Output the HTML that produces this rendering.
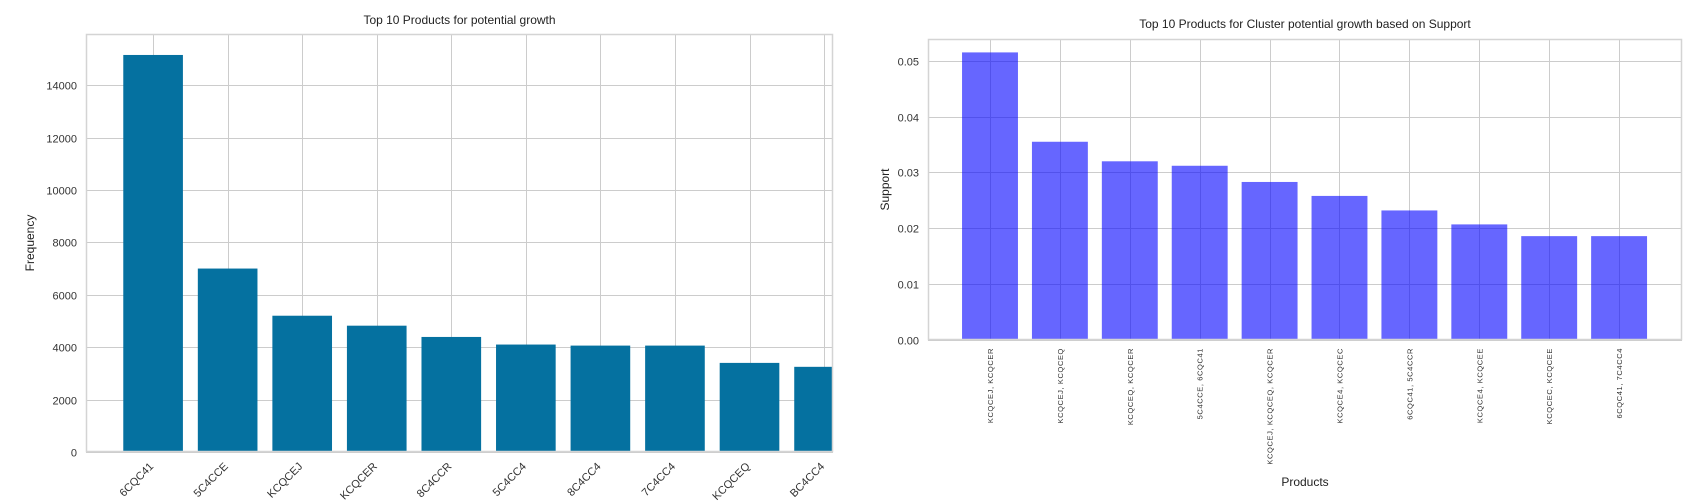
<!DOCTYPE html>
<html><head><meta charset="utf-8"><style>
html,body{margin:0;padding:0;background:#fff;}
svg{display:block;font-family:"Liberation Sans",Arial,sans-serif;}
</style></head><body>
<svg id="c" width="1706" height="504" viewBox="0 0 1706 504"></svg>
<script>
const leftCats=["6CQC41","5C4CCE","KCQCEJ","KCQCER","8C4CCR","5C4CC4","8C4CC4","7C4CC4","KCQCEQ","BC4CC4"];
const leftVals=[15150,7000,5200,4820,4390,4100,4060,4060,3400,3250];
const leftTicks=[0,2000,4000,6000,8000,10000,12000,14000];
const rightCats=["KCQCEJ, KCQCER","KCQCEJ, KCQCEQ","KCQCEQ, KCQCER","5C4CCE, 6CQC41","KCQCEJ, KCQCEQ, KCQCER","KCQCE4, KCQCEC","6CQC41, 5C4CCR","KCQCE4, KCQCEE","KCQCEC, KCQCEE","6CQC41, 7C4CC4"];
const rightVals=[0.0515,0.0355,0.0320,0.0312,0.0283,0.0258,0.0232,0.0207,0.0186,0.0186];
const rightTicks=[0,0.01,0.02,0.03,0.04,0.05];
const NS="http://www.w3.org/2000/svg";
const svg=document.getElementById('c');
function mk(t,a,p){const e=document.createElementNS(NS,t);for(const k in a)e.setAttribute(k,a[k]);(p||svg).appendChild(e);return e;}
function chart(o){
  const g=mk('g',{});
  
  
  const xs=i=>o.x0+(i-o.xmin)/(o.xmax-o.xmin)*(o.x1-o.x0);
  const ys=v=>o.y1-(v-o.ymin)/(o.ymax-o.ymin)*(o.y1-o.y0);
  const clip='cl'+o.name;
  const d=mk('defs',{},g);const cp=mk('clipPath',{id:clip},d);mk('rect',{x:o.x0,y:o.y0,width:o.x1-o.x0,height:o.y1-o.y0},cp);
  mk('rect',{x:o.x0,y:o.y0,width:o.x1-o.x0,height:o.y1-o.y0,fill:'#fff'},g);
  const grid=mk('g',{stroke:'#cccccc','stroke-width':1},g);
  o.ticks.forEach(t=>{const y=Math.round(ys(t))+0.5;const l=mk('line',{x1:o.x0,x2:o.x1,y1:y,y2:y},grid);
    
    const tx=mk('text',{x:o.x0-9,y:y+4,'text-anchor':'end','font-size':11,fill:'#333'},g);tx.textContent=o.fmt(t);
    });
  o.cats.forEach((c,i)=>{const x=Math.round(xs(i))+0.5;if(x<o.x1){const l=mk('line',{x1:x,x2:x,y1:o.y0,y2:o.y1},grid);
    }});
  const bars=mk('g',{'clip-path':'url(#'+clip+')'},g);
  o.vals.forEach((v,i)=>{const xc=xs(i),w=0.8*(xs(1)-xs(0));
    const r=mk('rect',{x:xc-w/2,y:ys(v),width:w,height:ys(0)-ys(v),fill:o.color,'fill-opacity':o.op},bars);
    
    let tx;
    if(o.rot===45){tx=mk('text',{x:0,y:0,'text-anchor':'end','font-size':11,fill:'#333',transform:`translate(${xc+1},${o.y1+15}) rotate(-45)`},g);}
    else{tx=mk('text',{x:0,y:0,'text-anchor':'end','font-size':7.5,fill:'#333','letter-spacing':'0.6',transform:`translate(${xc+3},${o.y1+8}) rotate(-90)`},g);}
    tx.textContent=o.cats[i];
    });
  mk('rect',{x:o.x0+0.5,y:o.y0+0.5,width:o.x1-o.x0-1,height:o.y1-o.y0-1,fill:'none',stroke:'#d4d4d4','stroke-width':1.5},g);
  const t=mk('text',{x:(o.x0+o.x1)/2,y:o.ty,'text-anchor':'middle','font-size':12,fill:'#222'},g);t.textContent=o.title;
  
  const yl=mk('text',{x:0,y:0,'text-anchor':'middle','font-size':12,fill:'#222',transform:`translate(${o.ylx},${(o.y0+o.y1)/2}) rotate(-90)`},g);yl.textContent=o.ylabel;
  
  if(o.xlabel){const xl=mk('text',{x:(o.x0+o.x1)/2,y:o.xly,'text-anchor':'middle','font-size':12,fill:'#222'},g);xl.textContent=o.xlabel;
    }
}
chart({name:'frequency-chart',cats:leftCats,vals:leftVals,ticks:leftTicks,x0:86,x1:833,y0:34,y1:452,xmin:-0.9,xmax:9.12,ymin:0,ymax:15950,
  color:'#0571a0',op:1,rot:45,fmt:v=>String(v),title:'Top 10 Products for potential growth',ty:24,ylabel:'Frequency',ylx:34});
chart({name:'support-chart',cats:rightCats,vals:rightVals,ticks:rightTicks,x0:928,x1:1682,y0:39,y1:340,xmin:-0.887,xmax:9.9,ymin:0,ymax:0.0539,
  color:'#0000ff',op:0.6,rot:90,fmt:v=>v.toFixed(2),title:'Top 10 Products for Cluster potential growth based on Support',ty:28,ylabel:'Support',ylx:889,xlabel:'Products',xly:486});
</script>
</body></html>
